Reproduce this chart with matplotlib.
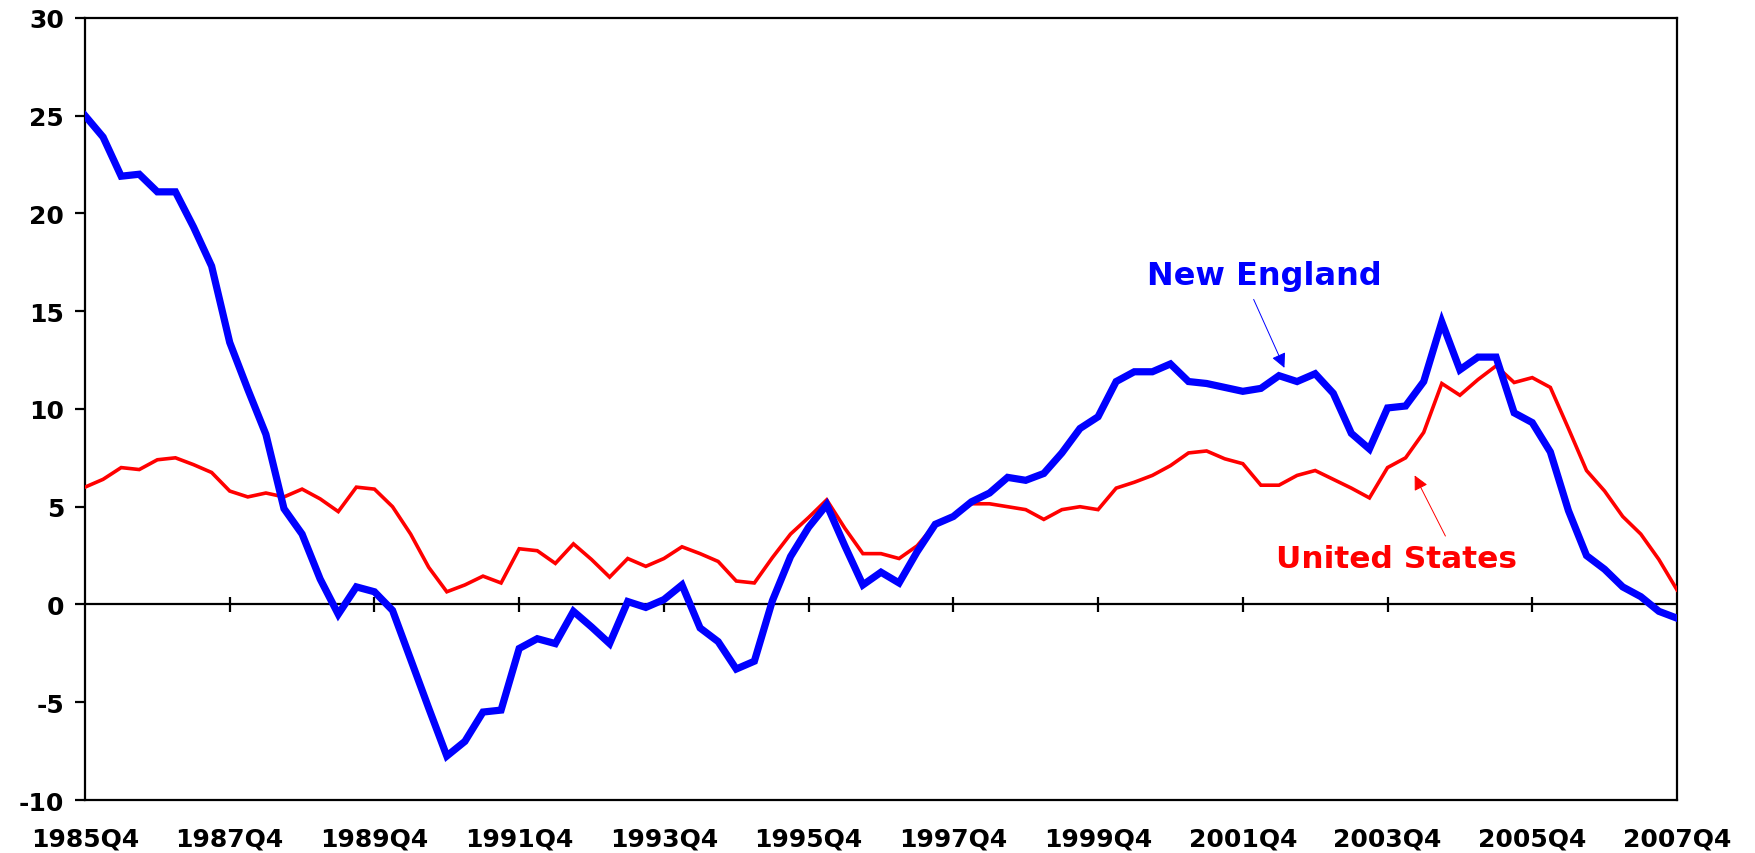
import numpy as np
import matplotlib
matplotlib.use("Agg")
import matplotlib.pyplot as plt

# Quarterly series, 1985Q4 .. 2007Q4 (percent change from year earlier)
quarters = []
for year in range(1985, 2008):
    for q in range(1, 5):
        if (year == 1985 and q < 4):
            continue
        quarters.append(f"{year}Q{q}")
quarters = quarters[:89]

new_england = [
    25.0, 23.9, 21.9, 22.0, 21.1, 21.1, 19.3, 17.3, 13.4, 11.0,
    8.7, 4.9, 3.6, 1.3, -0.5, 0.9, 0.65, -0.3, -2.8, -5.3,
    -7.75, -7.0, -5.5, -5.4, -2.25, -1.75, -2.0, -0.35, -1.15, -2.0,
    0.15, -0.15, 0.25, 1.0, -1.2, -1.9, -3.3, -2.9, 0.2, 2.45,
    3.95, 5.1, 3.0, 1.0, 1.65, 1.1, 2.7, 4.1, 4.5, 5.25,
    5.7, 6.5, 6.35, 6.7, 7.75, 9.0, 9.6, 11.4, 11.9, 11.9,
    12.3, 11.4, 11.3, 11.1, 10.9, 11.05, 11.7, 11.4, 11.8, 10.8,
    8.75, 7.95, 10.05, 10.15, 11.4, 14.45, 12.0, 12.65, 12.65, 9.8,
    9.3, 7.8, 4.8, 2.5, 1.8, 0.9, 0.4, -0.35, -0.7,
]

united_states = [
    6.0, 6.4, 7.0, 6.9, 7.4, 7.5, 7.15, 6.75, 5.8, 5.5,
    5.7, 5.5, 5.9, 5.4, 4.75, 6.0, 5.9, 5.0, 3.6, 1.9,
    0.65, 1.0, 1.45, 1.1, 2.85, 2.75, 2.1, 3.1, 2.3, 1.4,
    2.35, 1.95, 2.35, 2.95, 2.6, 2.2, 1.2, 1.1, 2.4, 3.6,
    4.45, 5.35, 3.9, 2.6, 2.6, 2.35, 3.0, 4.1, 4.5, 5.15,
    5.15, 5.0, 4.85, 4.35, 4.85, 5.0, 4.85, 5.95, 6.25, 6.6,
    7.1, 7.75, 7.85, 7.45, 7.2, 6.1, 6.1, 6.6, 6.85, 6.4,
    5.95, 5.45, 7.0, 7.5, 8.8, 11.3, 10.7, 11.5, 12.2, 11.35,
    11.6, 11.1, 9.0, 6.85, 5.8, 4.5, 3.6, 2.3, 0.75,
]

y_ticks = [-10, -5, 0, 5, 10, 15, 20, 25, 30]

x = np.arange(len(quarters))
tick_idx = x[::8]
tick_labels = [quarters[i] for i in tick_idx]

plt.rcParams["font.family"] = ["DejaVu Sans"]
plt.rcParams["font.weight"] = "bold"
plt.rcParams["axes.unicode_minus"] = False

fig = plt.figure(figsize=(17.56, 8.54), dpi=100)
ax = fig.add_axes([0.0484, 0.062, 0.9066, 0.916])

ax.plot(x, united_states, color="#FF0000", lw=2.6, solid_joinstyle="miter", zorder=3)
ax.plot(x, new_england, color="#0000FF", lw=5.2, solid_joinstyle="miter", zorder=4)

ax.set_xlim(x[0], x[-1])
ax.set_ylim(-10, 30)

# zero line with tick marks crossing it
ax.axhline(0, color="black", lw=1.6, zorder=2)
ax.vlines(tick_idx[1:-1], -0.38, 0.38, color="black", lw=1.6, zorder=2)

ax.set_xticks(tick_idx)
ax.set_xticklabels(tick_labels)
ax.tick_params(axis="x", length=0, pad=19, labelsize=18)
ax.set_yticks(y_ticks)
ax.tick_params(axis="y", length=7, width=1.6, pad=8, labelsize=18, direction="out")
for lbl in ax.get_xticklabels() + ax.get_yticklabels():
    lbl.set_fontweight("bold")

for s in ax.spines.values():
    s.set_linewidth(1.6)
    s.set_color("black")

# labels with arrows
ax.annotate("", xy=(66.3, 12.1), xytext=(64.6, 15.6),
            arrowprops=dict(arrowstyle="-|>", color="#0000FF", lw=0.7,
                            mutation_scale=22, shrinkA=0, shrinkB=0))
ax.text(65.2, 16.8, "New England", color="#0000FF", fontsize=23,
        fontweight="bold", ha="center", va="center")

ax.annotate("", xy=(73.5, 6.6), xytext=(75.2, 3.5),
            arrowprops=dict(arrowstyle="-|>", color="#FF0000", lw=0.7,
                            mutation_scale=22, shrinkA=0, shrinkB=0))
ax.text(72.5, 2.35, "United States", color="#FF0000", fontsize=22.5,
        fontweight="bold", ha="center", va="center")

fig.savefig("out.png", dpi=100)
